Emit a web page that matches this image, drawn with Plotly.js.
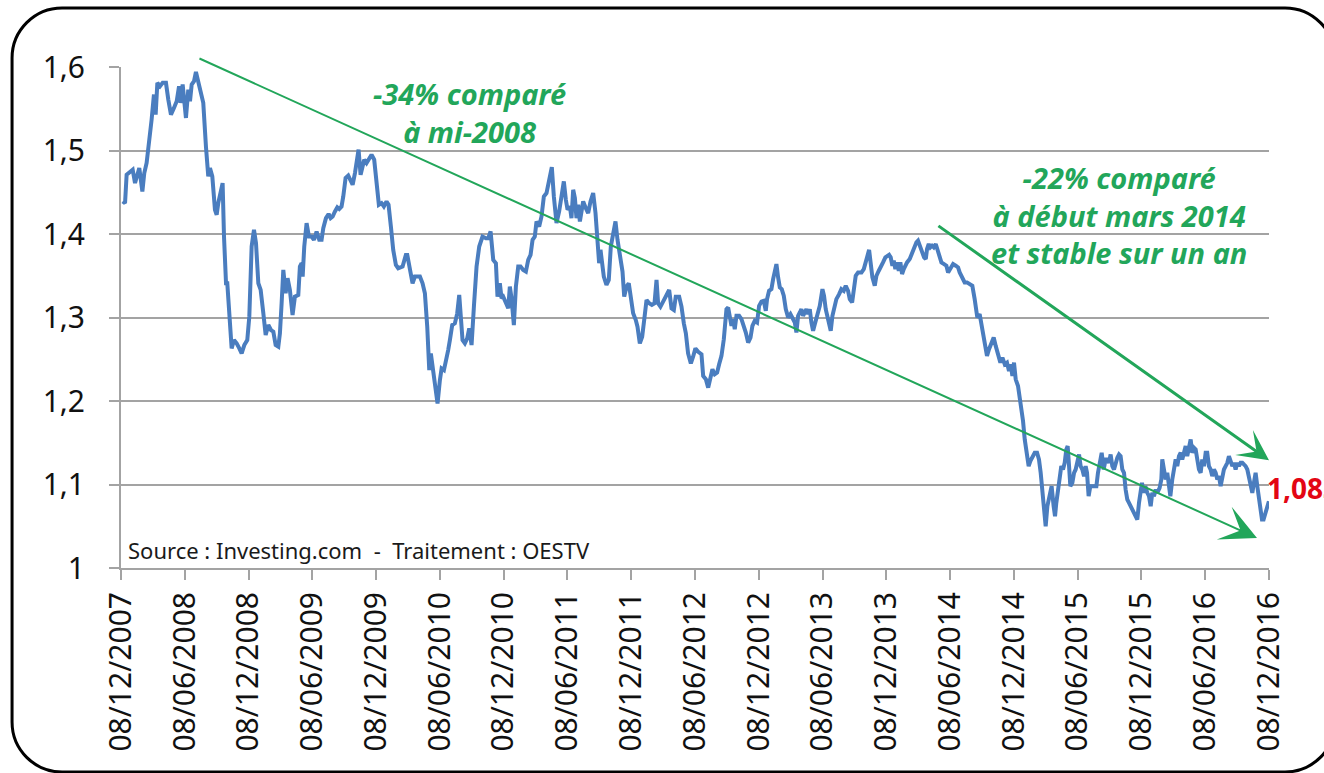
<!DOCTYPE html>
<html>
<head>
<meta charset="utf-8">
<script src="https://cdn.plot.ly/plotly-3.0.1.min.js"></script>
<style>html,body{margin:0;padding:0;background:#fff;}#chart{width:1324px;height:773px;}</style>
</head>
<body>
<div id="chart"></div>
<script>
// Months elapsed since 08/12/2007 (x) and EUR/USD rate (y)
const months = [
0.16,0.38,0.53,0.85,1.10,1.32,1.54,1.72,2.01,2.19,
2.41,2.67,2.88,3.10,3.26,3.42,3.67,3.92,4.23,4.45,
4.70,4.98,5.24,5.46,5.61,5.80,5.96,6.11,6.33,6.49,
6.65,6.87,7.05,7.27,7.74,7.99,8.21,8.37,8.59,8.84,
9.00,9.15,9.40,9.56,9.69,9.88,10.00,10.19,10.41,10.63,
10.88,11.13,11.35,11.60,11.88,12.07,12.29,12.51,12.70,12.92,
13.14,13.39,13.61,13.86,14.11,14.33,14.55,14.80,14.95,15.11,
15.27,15.49,15.67,15.89,16.14,16.36,16.68,16.83,16.99,17.09,
17.24,17.46,17.68,17.93,18.15,18.40,18.65,18.87,19.03,19.28,
19.53,19.72,19.91,20.13,20.35,20.53,20.75,20.91,21.13,21.38,
21.60,21.79,22.01,22.16,22.35,22.54,22.73,22.88,23.10,23.35,
23.57,23.82,24.04,24.26,24.51,24.73,24.98,25.17,25.39,25.61,
25.86,26.08,26.49,26.80,
26.93,27.18,27.43,27.65,28.12,28.37,28.59,28.81,29.00,29.15,
29.37,29.62,29.78,30.00,30.16,30.38,30.56,30.78,30.94,31.16,
31.41,31.63,31.82,31.98,32.13,32.35,32.57,32.76,32.98,33.20,
33.45,33.70,34.01,34.33,34.55,34.77,35.02,35.27,35.42,35.64,
35.80,35.96,36.21,36.43,36.58,36.74,36.96,37.15,37.37,37.59,
37.84,38.09,38.31,38.53,38.72,38.93,39.09,39.34,39.56,39.78,
40.03,40.28,40.53,40.72,40.97,41.22,41.44,41.66,41.85,42.01,
42.23,42.38,42.54,42.70,42.85,43.01,43.17,43.32,43.48,43.73,
43.95,44.17,44.42,44.64,44.83,44.98,45.11,45.24,45.42,45.67,
45.89,46.08,46.30,46.52,46.71,46.93,47.18,47.34,47.56,47.77,
47.96,48.18,48.43,48.59,48.81,49.03,49.22,49.44,49.69,49.94,
50.19,50.38,50.53,50.75,51.00,51.19,51.41,51.57,51.79,52.01,
52.19,52.51,52.73,52.95,53.14,53.35,53.61,53.82,54.04,54.30,
54.61,54.77,55.02,55.24,55.46,55.64,55.86,56.08,56.27,56.49,
56.71,56.96,57.12,57.27,57.43,57.59,57.74,57.90,58.15,58.37,
58.59,58.78,59.00,59.22,59.40,59.62,59.84,60.03,60.25,60.47,
60.66,60.78,60.97,61.19,61.35,61.51,61.66,61.82,61.98,62.16,
62.35,62.54,62.76,62.98,63.17,63.39,63.54,63.70,63.86,64.01,
64.17,64.33,64.48,64.64,64.80,64.95,65.11,65.27,65.42,65.58,
65.74,65.99,66.14,66.30,66.46,66.61,66.77,66.93,67.09,67.30,
67.56,67.77,67.99,68.18,68.40,68.56,68.78,68.93,69.12,69.34,
69.66,69.88,70.06,70.19,70.38,70.50,70.69,70.91,71.07,71.29,
71.47,71.69,71.91,72.07,72.26,72.41,72.57,72.70,72.85,73.01,
73.17,73.32,73.48,73.64,73.79,73.95,74.20,74.42,74.61,74.83,
74.98,75.14,75.36,75.55,75.71,75.83,75.99,76.14,76.30,76.46,
76.65,76.80,76.96,77.18,77.43,77.65,77.81,78.03,78.28,78.53,
78.75,78.90,79.15,79.37,79.59,79.84,80.09,80.31,80.56,
80.78,81.03,81.25,81.47,81.66,81.88,82.10,82.29,82.51,82.73,
82.92,83.14,83.35,83.54,83.70,83.86,84.01,84.17,84.39,84.55,
84.70,84.86,85.02,85.24,85.39,85.55,85.74,85.96,86.18,86.36,
86.52,86.68,86.83,86.99,87.15,87.37,87.55,87.74,87.87,87.99,
88.15,88.31,88.46,88.62,88.78,88.93,89.06,89.19,89.31,89.50,
89.66,89.81,89.94,90.13,90.28,90.44,90.60,90.75,90.88,91.03,
91.19,91.38,91.60,91.76,91.91,92.13,92.26,92.45,92.63,92.79,
92.95,93.10,93.26,93.42,93.57,93.73,93.89,94.04,94.20,94.36,
94.51,94.67,94.83,94.98,95.14,95.30,95.46,95.61,95.77,95.93,
96.05,96.21,96.36,96.55,96.71,96.87,97.02,97.18,97.34,97.49,
97.71,97.87,97.96,98.12,98.28,98.43,98.59,98.72,98.90,99.06,
99.22,99.37,99.53,99.69,99.84,100.00,100.16,100.31,100.47,100.63,
100.78,100.94,101.10,101.25,101.41,101.57,101.72,101.88,102.04,102.19,
102.35,102.51,102.66,102.82,102.98,103.14,103.29,103.45,103.61,103.76,
103.92,104.08,104.23,104.39,104.55,104.70,104.86,105.02,105.17,105.33,
105.49,105.64,105.80,105.96,106.11,106.27,106.43,106.58,106.74,106.90,
107.05,107.18,107.34,107.49,107.65,107.81,107.99
];
const eurUsd = [
1.439,1.437,1.471,1.475,1.477,1.461,1.471,1.479,1.451,1.473,
1.485,1.521,1.537,1.567,1.543,1.581,1.577,1.581,1.581,1.561,
1.543,1.551,1.559,1.577,1.557,1.579,1.561,1.539,1.573,1.559,
1.579,1.583,1.594,1.583,1.557,1.505,1.469,1.479,1.469,1.429,
1.423,1.437,1.451,1.461,1.397,1.341,1.341,1.301,1.263,1.273,
1.269,1.263,1.257,1.267,1.273,1.301,1.385,1.405,1.389,1.341,
1.333,1.305,1.279,1.291,1.285,1.283,1.267,1.265,1.281,1.317,
1.357,1.329,1.347,1.333,1.303,1.325,1.327,1.361,1.365,1.349,
1.385,1.413,1.397,1.397,1.393,1.403,1.393,1.393,1.407,1.419,
1.424,1.419,1.421,1.427,1.432,1.430,1.433,1.445,1.467,1.470,
1.465,1.459,1.473,1.489,1.501,1.471,1.483,1.489,1.485,1.491,
1.495,1.489,1.461,1.435,1.437,1.433,1.439,1.435,1.409,1.381,
1.363,1.359,1.361,1.375,
1.375,1.355,1.341,1.349,1.349,1.341,1.329,1.289,1.237,1.257,
1.237,1.213,1.197,1.225,1.239,1.237,1.251,1.261,1.273,1.291,
1.293,1.305,1.327,1.297,1.273,1.269,1.275,1.287,1.267,1.313,
1.361,1.385,1.397,1.395,1.395,1.403,1.369,1.365,1.325,1.341,
1.323,1.325,1.317,1.311,1.337,1.323,1.291,1.337,1.361,1.361,
1.357,1.355,1.369,1.375,1.393,1.397,1.415,1.409,1.421,1.445,
1.449,1.463,1.480,1.445,1.413,1.427,1.443,1.463,1.441,1.429,
1.433,1.419,1.453,1.443,1.419,1.435,1.415,1.431,1.439,1.431,
1.425,1.439,1.449,1.425,1.389,1.365,1.381,1.369,1.349,1.339,
1.345,1.385,1.399,1.415,1.393,1.377,1.355,1.325,1.337,1.341,
1.325,1.305,1.297,1.289,1.269,1.277,1.297,1.321,1.317,1.315,
1.317,1.345,1.317,1.313,1.319,1.325,1.329,1.333,1.311,1.309,
1.325,1.325,1.313,1.293,1.281,1.257,1.245,1.253,1.263,1.259,
1.256,1.230,1.226,1.216,1.230,1.238,1.232,1.234,1.244,1.254,
1.274,1.310,1.312,1.302,1.290,1.298,1.286,1.302,1.302,1.298,
1.290,1.282,1.270,1.276,1.290,1.296,1.294,1.314,1.319,1.320,
1.308,1.322,1.332,1.334,1.346,1.354,1.364,1.348,1.336,1.334,
1.326,1.310,1.300,1.304,1.300,1.294,1.282,1.302,1.306,1.310,
1.302,1.308,1.310,1.304,1.310,1.294,1.284,1.292,1.300,1.306,
1.314,1.334,1.326,1.310,1.302,1.292,1.284,1.302,1.310,1.322,
1.328,1.334,1.332,1.338,1.332,1.322,1.318,1.332,1.350,1.354,
1.354,1.358,1.368,1.374,1.381,1.368,1.348,1.338,1.350,1.356,
1.362,1.366,1.372,1.374,1.375,1.372,1.362,1.368,1.358,1.366,
1.356,1.366,1.352,1.358,1.362,1.366,1.370,1.378,1.384,1.390,
1.392,1.386,1.378,1.372,1.370,1.382,1.388,1.384,1.386,1.384,
1.388,1.382,1.374,1.366,1.364,1.362,1.354,1.360,1.364,1.362,
1.360,1.354,1.346,1.342,1.342,1.340,1.338,1.322,1.300,
1.304,1.288,1.274,1.254,1.262,1.268,1.276,1.266,1.254,1.246,
1.252,1.244,1.246,1.236,1.244,1.230,1.246,1.226,1.218,1.206,
1.190,1.176,1.154,1.134,1.122,1.128,1.134,1.138,1.138,1.130,
1.114,1.090,1.062,1.050,1.074,1.086,1.098,1.074,1.062,1.078,
1.094,1.106,1.122,1.118,1.126,1.142,1.146,1.122,1.098,1.102,
1.114,1.118,1.126,1.136,1.122,1.118,1.110,1.122,1.114,1.086,
1.098,1.098,1.098,1.098,1.114,1.134,1.138,1.118,1.130,1.130,
1.126,1.136,1.122,1.118,1.126,1.132,1.136,1.134,1.118,1.114,
1.094,1.082,1.078,1.074,1.070,1.066,1.060,1.058,1.078,1.096,
1.102,1.090,1.098,1.090,1.086,1.074,1.090,1.086,1.094,1.090,
1.096,1.106,1.130,1.118,1.106,1.114,1.094,1.086,1.106,1.122,
1.130,1.122,1.134,1.138,1.130,1.138,1.146,1.134,1.146,1.154,
1.138,1.144,1.142,1.130,1.118,1.114,1.130,1.122,1.138,1.138,
1.122,1.118,1.110,1.118,1.114,1.106,1.110,1.098,1.110,1.118,
1.122,1.126,1.134,1.128,1.122,1.126,1.118,1.126,1.122,1.126,
1.126,1.124,1.122,1.118,1.110,1.100,1.090,1.102,1.114,1.098,
1.082,1.066,1.058,1.058,1.066,1.074,1.080
];
const tickMonths = [0,6,12,18,24,30,36,42,48,54,60,66,72,78,84,90,96,102,108];
const tickLabels = ['08/12/2007','08/06/2008','08/12/2008','08/06/2009','08/12/2009','08/06/2010',
  '08/12/2010','08/06/2011','08/12/2011','08/06/2012','08/12/2012','08/06/2013','08/12/2013',
  '08/06/2014','08/12/2014','08/06/2015','08/12/2015','08/06/2016','08/12/2016'];
const yTicks = [1,1.1,1.2,1.3,1.4,1.5,1.6];
const yLabels = ['1','1,1','1,2','1,3','1,4','1,5','1,6'];
const note1 = ['-34% comparé','à mi-2008'];
const note2 = ['-22% comparé','à début mars 2014','et stable sur un an'];
const lastLabel = '1,083';
const sourceText = 'Source : Investing.com\u00a0\u00a0-\u00a0\u00a0Traitement : OESTV';

const GREEN = '#22a65a';
const GRID = '#a3a3a3';
const FONT = 'Noto Sans, Open Sans, sans-serif';

const trace = {
  x: months, y: eurUsd, type: 'scatter', mode: 'lines',
  line: {color: '#4a7dbf', width: 4}, hoverinfo: 'skip', showlegend: false
};

const annotations = [];
// trend arrows
annotations.push({x: 106.87, y: 1.036, ax: 7.24, ay: 1.611, xref: 'x', yref: 'y', axref: 'x', ayref: 'y',
  text: '', showarrow: true, arrowcolor: GREEN, arrowwidth: 2, arrowhead: 3, arrowsize: 3.0, standoff: 0});
annotations.push({x: 108.0, y: 1.129, ax: 76.76, ay: 1.411, xref: 'x', yref: 'y', axref: 'x', ayref: 'y',
  text: '', showarrow: true, arrowcolor: GREEN, arrowwidth: 3, arrowhead: 3, arrowsize: 1.7, standoff: 0});
// notes
const noteFont = {family: FONT, size: 29, color: GREEN, weight: 'bold', style: 'italic'};
annotations.push({x: 32.83, y: 1.546, xref: 'x', yref: 'y', text: note1.join('<br>'), showarrow: false,
  align: 'center', xanchor: 'center', yanchor: 'middle', font: noteFont});
annotations.push({x: 93.89, y: 1.4225, xref: 'x', yref: 'y', text: note2.join('<br>'), showarrow: false,
  align: 'center', xanchor: 'center', yanchor: 'middle', font: noteFont});
// last value
annotations.push({x: 107.6, y: 1.096, xref: 'x', yref: 'y', text: lastLabel, showarrow: false,
  xanchor: 'left', yanchor: 'middle', font: {family: FONT, size: 28, color: '#e30613', weight: 'bold'}});
// source
annotations.push({x: 0.004, y: 0.036, xref: 'paper', yref: 'paper', text: sourceText, showarrow: false,
  xanchor: 'left', yanchor: 'middle', font: {family: FONT, size: 22, color: '#1a1a1a'}});

// rounded frame (paper coordinates)
const L = -0.0949, R = 1.0575, T = 1.1178, B = -0.4072, rx = 0.04355, ry = 0.0998, k = 0.552;
const framePath = `M${L+rx},${T} L${R-rx},${T} C${R-rx+k*rx},${T} ${R},${T-ry+k*ry} ${R},${T-ry} ` +
  `L${R},${B+ry} C${R},${B+ry-k*ry} ${R-rx+k*rx},${B} ${R-rx},${B} ` +
  `L${L+rx},${B} C${L+rx-k*rx},${B} ${L},${B+ry-k*ry} ${L},${B+ry} ` +
  `L${L},${T-ry} C${L},${T-ry+k*ry} ${L+rx-k*rx},${T} ${L+rx},${T} Z`;

const layout = {
  width: 1324, height: 773,
  margin: {l: 121, r: 55, t: 67, b: 205},
  paper_bgcolor: '#ffffff', plot_bgcolor: '#ffffff',
  font: {family: FONT, color: '#111'},
  showlegend: false,
  xaxis: {
    range: [0, 108], tickmode: 'array', tickvals: tickMonths, ticktext: tickLabels, tickangle: -90,
    showgrid: false, zeroline: false, showline: true, linecolor: GRID, linewidth: 2,
    ticks: 'outside', ticklen: 10, tickwidth: 2, tickcolor: GRID, ticklabelstandoff: 0,
    tickfont: {family: FONT, size: 30, color: '#111'}
  },
  yaxis: {
    range: [1, 1.6], tickmode: 'array', tickvals: yTicks, ticktext: yLabels,
    showgrid: true, gridcolor: GRID, gridwidth: 2, zeroline: false, showline: true, linecolor: GRID, linewidth: 2,
    ticks: 'outside', ticklen: 10, tickwidth: 2, tickcolor: GRID, ticklabelstandoff: 18,
    tickfont: {family: FONT, size: 30, color: '#111'}
  },
  annotations: annotations,
  shapes: [{type: 'path', xref: 'paper', yref: 'paper', path: framePath, line: {color: '#000', width: 3}, layer: 'above'}]
};

Plotly.newPlot('chart', [trace], layout, {staticPlot: true, displayModeBar: false});
</script>
</body>
</html>
